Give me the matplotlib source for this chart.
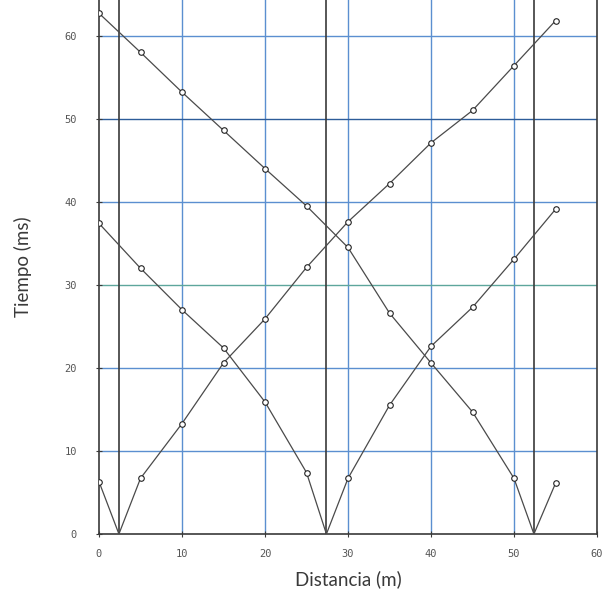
import numpy as np
import matplotlib
matplotlib.use("Agg")
import matplotlib.pyplot as plt

# ---- data -------------------------------------------------------------------
dist = [0, 5, 10, 15, 20, 25, 30, 35, 40, 45, 50, 55]

# series 1: starts high, reaches zero near 52.4 m
dist_a = [0, 5, 10, 15, 20, 25, 30, 35, 40, 45, 50, 52.4, 55]
t_a = [62.7, 58.0, 53.2, 48.6, 44.0, 39.5, 34.5, 26.6, 20.6, 14.7, 6.7, 0.0, 6.1]

# series 2: zero near 27.4 m
dist_b = [0, 5, 10, 15, 20, 25, 27.4, 30, 35, 40, 45, 50, 55]
t_b = [37.4, 32.0, 27.0, 22.4, 15.9, 7.4, 0.0, 6.7, 15.5, 22.6, 27.3, 33.1, 39.1]

# series 3: zero near 2.4 m
dist_c = [0, 2.4, 5, 10, 15, 20, 25, 30, 35, 40, 45, 50, 55]
t_c = [6.3, 0.0, 6.7, 13.3, 20.6, 25.9, 32.1, 37.6, 42.2, 47.1, 51.0, 56.4, 61.8]

cruces_cero = [2.4, 27.4, 52.4]
xticks = [0, 10, 20, 30, 40, 50, 60]
yticks = [0, 10, 20, 30, 40, 50, 60]

# ---- style ------------------------------------------------------------------
BLUE, DBLUE, TEAL = "#5b8fd0", "#2d5c99", "#5da69c"
DARK, LINE = "#3a3a3a", "#4a4a4a"

fig = plt.figure(figsize=(6.10, 5.92), dpi=100, facecolor="white")
ax = fig.add_axes([99 / 610, 58 / 592, 498 / 610, 534 / 592])
ax.set_xlim(0, 60)
ax.set_ylim(0, 64.3)

# grid
for v in xticks[1:-1]:
    ax.axvline(v, color=BLUE, lw=1.0, zorder=1)
for v in yticks[1:]:
    c = DBLUE if v == 50 else (TEAL if v == 30 else BLUE)
    ax.axhline(v, color=c, lw=1.0, zorder=1)
for v in cruces_cero:
    ax.axvline(v, color=DARK, lw=1.2, zorder=2)

# series
for xs, ys in ((dist_a, t_a), (dist_b, t_b), (dist_c, t_c)):
    ax.plot(xs, ys, color=LINE, lw=0.9, zorder=3)
    pts = [(x, y) for x, y in zip(xs, ys) if x in dist]
    ax.plot([p[0] for p in pts], [p[1] for p in pts], ls="none", marker="o",
            ms=4, mfc="white", mec="#222222", mew=0.8, zorder=4)

for s in ("left", "right", "bottom"):
    ax.spines[s].set_color(DARK)
    ax.spines[s].set_linewidth(1.2)
ax.spines["top"].set_visible(False)

ax.set_xticks(xticks)
ax.set_yticks(yticks)
ax.tick_params(direction="inout", length=4, width=0.8, color=DARK,
               labelsize=7.5, labelcolor="#555555")
ax.tick_params(axis="x", pad=9)
ax.tick_params(axis="y", pad=14)
for lab in ax.get_xticklabels() + ax.get_yticklabels():
    lab.set_family("DejaVu Sans Mono")

ax.set_xlabel("Distancia (m)", family="Lato", fontsize=13.5,
              color="#3a3a3a", labelpad=8)
ax.set_ylabel("Tiempo (ms)", family="Lato", fontsize=13.5,
              color="#3a3a3a", labelpad=23)

fig.savefig("out.png", dpi=100, facecolor="white")
